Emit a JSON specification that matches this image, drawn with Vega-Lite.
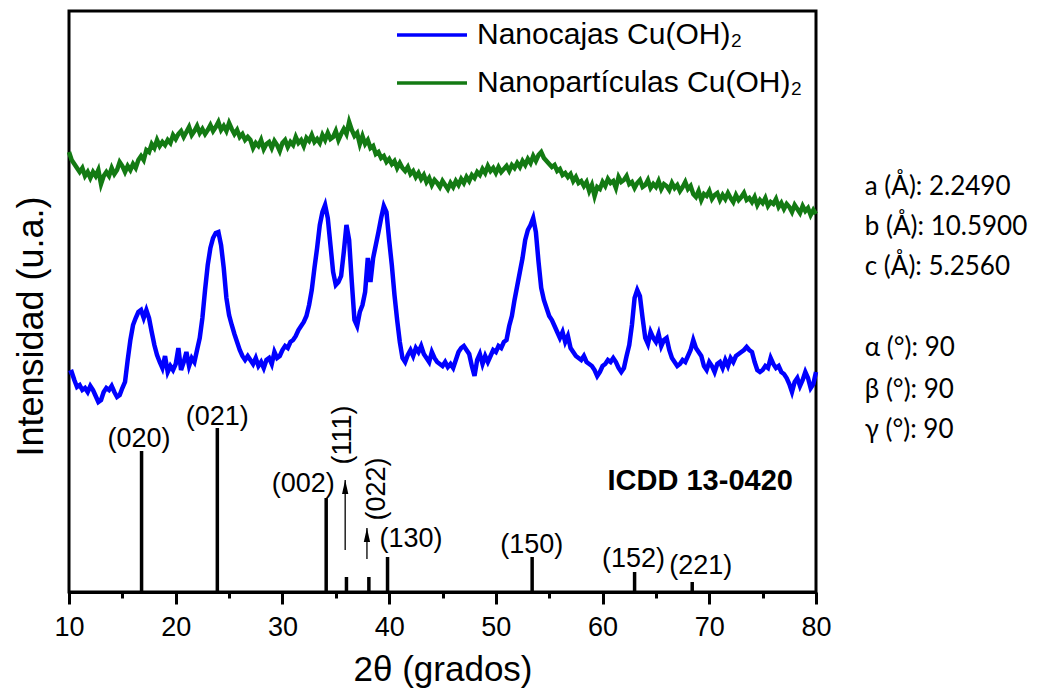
{
"$schema":"https://vega.github.io/schema/vega-lite/v6.json",
"width":747,"height":581,
"autosize":"none",
"padding":{"left":69,"top":11,"right":222,"bottom":100},
"background":"white",
"config":{"view":{"stroke":"black","strokeWidth":3},"font":"Liberation Sans"},
"datasets":{
"blue":[{"t":10,"v":219},{"t":10.25,"v":220},{"t":10.5,"v":212},{"t":10.75,"v":205},{"t":11,"v":207},{"t":11.25,"v":202},{"t":11.5,"v":204},{"t":11.75,"v":200},{"t":12,"v":206},{"t":12.25,"v":202},{"t":12.5,"v":196},{"t":12.75,"v":190},{"t":13,"v":192},{"t":13.25,"v":200},{"t":13.5,"v":204},{"t":13.75,"v":202},{"t":14,"v":206},{"t":14.25,"v":200},{"t":14.5,"v":195},{"t":14.75,"v":197},{"t":15,"v":204},{"t":15.25,"v":210},{"t":15.5,"v":232},{"t":15.75,"v":252},{"t":16,"v":267},{"t":16.25,"v":274},{"t":16.5,"v":280},{"t":16.75,"v":282},{"t":17,"v":274},{"t":17.25,"v":282},{"t":17.5,"v":274},{"t":17.75,"v":260},{"t":18,"v":247},{"t":18.25,"v":237},{"t":18.5,"v":230},{"t":18.75,"v":224},{"t":19,"v":236},{"t":19.25,"v":220},{"t":19.5,"v":226},{"t":19.75,"v":222},{"t":20,"v":228},{"t":20.25,"v":244},{"t":20.5,"v":222},{"t":20.75,"v":230},{"t":21,"v":240},{"t":21.25,"v":226},{"t":21.5,"v":234},{"t":21.75,"v":230},{"t":22,"v":242},{"t":22.25,"v":254},{"t":22.5,"v":274},{"t":22.75,"v":302},{"t":23,"v":327},{"t":23.25,"v":344},{"t":23.5,"v":354},{"t":23.75,"v":359},{"t":24,"v":360},{"t":24.25,"v":347},{"t":24.5,"v":324},{"t":24.75,"v":294},{"t":25,"v":277},{"t":25.25,"v":267},{"t":25.5,"v":258},{"t":25.75,"v":250},{"t":26,"v":242},{"t":26.25,"v":236},{"t":26.5,"v":232},{"t":26.75,"v":236},{"t":27,"v":232},{"t":27.25,"v":228},{"t":27.5,"v":234},{"t":27.75,"v":226},{"t":28,"v":230},{"t":28.25,"v":224},{"t":28.5,"v":232},{"t":28.75,"v":234},{"t":29,"v":228},{"t":29.25,"v":240},{"t":29.5,"v":234},{"t":29.75,"v":236},{"t":30,"v":242},{"t":30.25,"v":246},{"t":30.5,"v":244},{"t":30.75,"v":250},{"t":31,"v":252},{"t":31.25,"v":256},{"t":31.5,"v":262},{"t":31.75,"v":266},{"t":32,"v":270},{"t":32.25,"v":276},{"t":32.5,"v":287},{"t":32.75,"v":302},{"t":33,"v":324},{"t":33.25,"v":344},{"t":33.5,"v":367},{"t":33.75,"v":380},{"t":34,"v":387},{"t":34.25,"v":374},{"t":34.5,"v":347},{"t":34.75,"v":320},{"t":35,"v":307},{"t":35.25,"v":310},{"t":35.5,"v":316},{"t":35.75,"v":340},{"t":36,"v":367},{"t":36.25,"v":352},{"t":36.5,"v":310},{"t":36.75,"v":272},{"t":37,"v":266},{"t":37.25,"v":280},{"t":37.5,"v":287},{"t":37.75,"v":300},{"t":38,"v":334},{"t":38.25,"v":310},{"t":38.5,"v":334},{"t":38.75,"v":347},{"t":39,"v":360},{"t":39.25,"v":374},{"t":39.5,"v":386},{"t":39.75,"v":380},{"t":40,"v":352},{"t":40.25,"v":327},{"t":40.5,"v":297},{"t":40.75,"v":272},{"t":41,"v":250},{"t":41.25,"v":234},{"t":41.5,"v":230},{"t":41.75,"v":237},{"t":42,"v":242},{"t":42.25,"v":236},{"t":42.5,"v":244},{"t":42.75,"v":240},{"t":43,"v":246},{"t":43.25,"v":238},{"t":43.5,"v":234},{"t":43.75,"v":230},{"t":44,"v":240},{"t":44.25,"v":234},{"t":44.5,"v":230},{"t":44.75,"v":228},{"t":45,"v":226},{"t":45.25,"v":230},{"t":45.5,"v":225},{"t":45.75,"v":228},{"t":46,"v":224},{"t":46.25,"v":232},{"t":46.5,"v":240},{"t":46.75,"v":244},{"t":47,"v":246},{"t":47.25,"v":242},{"t":47.5,"v":238},{"t":47.75,"v":226},{"t":48,"v":216},{"t":48.25,"v":232},{"t":48.5,"v":238},{"t":48.75,"v":228},{"t":49,"v":236},{"t":49.25,"v":230},{"t":49.5,"v":236},{"t":49.75,"v":242},{"t":50,"v":240},{"t":50.25,"v":246},{"t":50.5,"v":244},{"t":50.75,"v":250},{"t":51,"v":252},{"t":51.25,"v":266},{"t":51.5,"v":276},{"t":51.75,"v":292},{"t":52,"v":306},{"t":52.25,"v":320},{"t":52.5,"v":334},{"t":52.75,"v":352},{"t":53,"v":362},{"t":53.25,"v":367},{"t":53.5,"v":374},{"t":53.75,"v":360},{"t":54,"v":330},{"t":54.25,"v":304},{"t":54.5,"v":292},{"t":54.75,"v":284},{"t":55,"v":276},{"t":55.25,"v":272},{"t":55.5,"v":266},{"t":55.75,"v":260},{"t":56,"v":254},{"t":56.25,"v":260},{"t":56.5,"v":250},{"t":56.75,"v":256},{"t":57,"v":244},{"t":57.25,"v":240},{"t":57.5,"v":236},{"t":57.75,"v":234},{"t":58,"v":232},{"t":58.25,"v":236},{"t":58.5,"v":230},{"t":58.75,"v":228},{"t":59,"v":226},{"t":59.25,"v":222},{"t":59.5,"v":216},{"t":59.75,"v":220},{"t":60,"v":226},{"t":60.25,"v":228},{"t":60.5,"v":232},{"t":60.75,"v":230},{"t":61,"v":234},{"t":61.25,"v":230},{"t":61.5,"v":224},{"t":61.75,"v":220},{"t":62,"v":224},{"t":62.25,"v":236},{"t":62.5,"v":247},{"t":62.75,"v":267},{"t":63,"v":294},{"t":63.25,"v":302},{"t":63.5,"v":296},{"t":63.75,"v":274},{"t":64,"v":254},{"t":64.25,"v":248},{"t":64.5,"v":260},{"t":64.75,"v":254},{"t":65,"v":250},{"t":65.25,"v":258},{"t":65.5,"v":246},{"t":65.75,"v":252},{"t":66,"v":254},{"t":66.25,"v":242},{"t":66.5,"v":234},{"t":66.75,"v":230},{"t":67,"v":226},{"t":67.25,"v":228},{"t":67.5,"v":232},{"t":67.75,"v":230},{"t":68,"v":236},{"t":68.25,"v":242},{"t":68.5,"v":252},{"t":68.75,"v":244},{"t":69,"v":240},{"t":69.25,"v":236},{"t":69.5,"v":226},{"t":69.75,"v":222},{"t":70,"v":230},{"t":70.25,"v":226},{"t":70.5,"v":220},{"t":70.75,"v":228},{"t":71,"v":230},{"t":71.25,"v":224},{"t":71.5,"v":232},{"t":71.75,"v":226},{"t":72,"v":234},{"t":72.25,"v":230},{"t":72.5,"v":236},{"t":72.75,"v":238},{"t":73,"v":240},{"t":73.25,"v":242},{"t":73.5,"v":245},{"t":73.75,"v":242},{"t":74,"v":240},{"t":74.25,"v":230},{"t":74.5,"v":222},{"t":74.75,"v":220},{"t":75,"v":222},{"t":75.25,"v":226},{"t":75.5,"v":224},{"t":75.75,"v":234},{"t":76,"v":228},{"t":76.25,"v":224},{"t":76.5,"v":226},{"t":76.75,"v":220},{"t":77,"v":218},{"t":77.25,"v":214},{"t":77.5,"v":208},{"t":77.75,"v":200},{"t":78,"v":210},{"t":78.25,"v":214},{"t":78.5,"v":206},{"t":78.75,"v":212},{"t":79,"v":220},{"t":79.25,"v":214},{"t":79.5,"v":204},{"t":79.75,"v":208},{"t":80,"v":220}],
"green":[{"t":10,"v":440},{"t":10.25,"v":432},{"t":10.5,"v":428},{"t":10.75,"v":424},{"t":11,"v":420},{"t":11.25,"v":424},{"t":11.5,"v":416},{"t":11.75,"v":420},{"t":12,"v":414},{"t":12.25,"v":420},{"t":12.5,"v":416},{"t":12.75,"v":422},{"t":13,"v":408},{"t":13.25,"v":416},{"t":13.5,"v":420},{"t":13.75,"v":416},{"t":14,"v":424},{"t":14.25,"v":418},{"t":14.5,"v":422},{"t":14.75,"v":430},{"t":15,"v":426},{"t":15.25,"v":420},{"t":15.5,"v":426},{"t":15.75,"v":422},{"t":16,"v":428},{"t":16.25,"v":424},{"t":16.5,"v":432},{"t":16.75,"v":436},{"t":17,"v":432},{"t":17.25,"v":442},{"t":17.5,"v":440},{"t":17.75,"v":448},{"t":18,"v":444},{"t":18.25,"v":452},{"t":18.5,"v":446},{"t":18.75,"v":450},{"t":19,"v":447},{"t":19.25,"v":452},{"t":19.5,"v":449},{"t":19.75,"v":457},{"t":20,"v":453},{"t":20.25,"v":458},{"t":20.5,"v":461},{"t":20.75,"v":455},{"t":21,"v":460},{"t":21.25,"v":465},{"t":21.5,"v":457},{"t":21.75,"v":461},{"t":22,"v":466},{"t":22.25,"v":459},{"t":22.5,"v":463},{"t":22.75,"v":458},{"t":23,"v":462},{"t":23.25,"v":467},{"t":23.5,"v":461},{"t":23.75,"v":465},{"t":24,"v":470},{"t":24.25,"v":462},{"t":24.5,"v":466},{"t":24.75,"v":461},{"t":25,"v":469},{"t":25.25,"v":463},{"t":25.5,"v":458},{"t":25.75,"v":462},{"t":26,"v":455},{"t":26.25,"v":458},{"t":26.5,"v":452},{"t":26.75,"v":455},{"t":27,"v":452},{"t":27.25,"v":444},{"t":27.5,"v":449},{"t":27.75,"v":446},{"t":28,"v":452},{"t":28.25,"v":443},{"t":28.5,"v":448},{"t":28.75,"v":450},{"t":29,"v":444},{"t":29.25,"v":451},{"t":29.5,"v":447},{"t":29.75,"v":441},{"t":30,"v":449},{"t":30.25,"v":452},{"t":30.5,"v":445},{"t":30.75,"v":450},{"t":31,"v":447},{"t":31.25,"v":455},{"t":31.5,"v":449},{"t":31.75,"v":452},{"t":32,"v":446},{"t":32.25,"v":454},{"t":32.5,"v":451},{"t":32.75,"v":457},{"t":33,"v":450},{"t":33.25,"v":453},{"t":33.5,"v":449},{"t":33.75,"v":457},{"t":34,"v":452},{"t":34.25,"v":459},{"t":34.5,"v":453},{"t":34.75,"v":455},{"t":35,"v":461},{"t":35.25,"v":452},{"t":35.5,"v":458},{"t":35.75,"v":463},{"t":36,"v":458},{"t":36.25,"v":470},{"t":36.5,"v":462},{"t":36.75,"v":456},{"t":37,"v":459},{"t":37.25,"v":448},{"t":37.5,"v":456},{"t":37.75,"v":448},{"t":38,"v":452},{"t":38.25,"v":444},{"t":38.5,"v":446},{"t":38.75,"v":438},{"t":39,"v":440},{"t":39.25,"v":434},{"t":39.5,"v":436},{"t":39.75,"v":430},{"t":40,"v":433},{"t":40.25,"v":428},{"t":40.5,"v":431},{"t":40.75,"v":424},{"t":41,"v":429},{"t":41.25,"v":424},{"t":41.5,"v":421},{"t":41.75,"v":425},{"t":42,"v":418},{"t":42.25,"v":421},{"t":42.5,"v":415},{"t":42.75,"v":419},{"t":43,"v":413},{"t":43.25,"v":417},{"t":43.5,"v":410},{"t":43.75,"v":414},{"t":44,"v":407},{"t":44.25,"v":412},{"t":44.5,"v":409},{"t":44.75,"v":405},{"t":45,"v":411},{"t":45.25,"v":407},{"t":45.5,"v":403},{"t":45.75,"v":409},{"t":46,"v":405},{"t":46.25,"v":411},{"t":46.5,"v":407},{"t":46.75,"v":413},{"t":47,"v":409},{"t":47.25,"v":415},{"t":47.5,"v":411},{"t":47.75,"v":417},{"t":48,"v":414},{"t":48.25,"v":420},{"t":48.5,"v":417},{"t":48.75,"v":423},{"t":49,"v":419},{"t":49.25,"v":426},{"t":49.5,"v":421},{"t":49.75,"v":424},{"t":50,"v":419},{"t":50.25,"v":425},{"t":50.5,"v":420},{"t":50.75,"v":423},{"t":51,"v":426},{"t":51.25,"v":421},{"t":51.5,"v":427},{"t":51.75,"v":424},{"t":52,"v":429},{"t":52.25,"v":425},{"t":52.5,"v":431},{"t":52.75,"v":427},{"t":53,"v":433},{"t":53.25,"v":429},{"t":53.5,"v":436},{"t":53.75,"v":431},{"t":54,"v":437},{"t":54.25,"v":440},{"t":54.5,"v":434},{"t":54.75,"v":431},{"t":55,"v":428},{"t":55.25,"v":425},{"t":55.5,"v":427},{"t":55.75,"v":421},{"t":56,"v":423},{"t":56.25,"v":417},{"t":56.5,"v":419},{"t":56.75,"v":415},{"t":57,"v":418},{"t":57.25,"v":411},{"t":57.5,"v":415},{"t":57.75,"v":409},{"t":58,"v":411},{"t":58.25,"v":406},{"t":58.5,"v":410},{"t":58.75,"v":401},{"t":59,"v":407},{"t":59.25,"v":396},{"t":59.5,"v":405},{"t":59.75,"v":403},{"t":60,"v":410},{"t":60.25,"v":406},{"t":60.5,"v":413},{"t":60.75,"v":409},{"t":61,"v":411},{"t":61.25,"v":404},{"t":61.5,"v":415},{"t":61.75,"v":410},{"t":62,"v":412},{"t":62.25,"v":416},{"t":62.5,"v":408},{"t":62.75,"v":410},{"t":63,"v":404},{"t":63.25,"v":409},{"t":63.5,"v":412},{"t":63.75,"v":405},{"t":64,"v":407},{"t":64.25,"v":412},{"t":64.5,"v":404},{"t":64.75,"v":408},{"t":65,"v":405},{"t":65.25,"v":411},{"t":65.5,"v":403},{"t":65.75,"v":408},{"t":66,"v":406},{"t":66.25,"v":402},{"t":66.5,"v":409},{"t":66.75,"v":404},{"t":67,"v":407},{"t":67.25,"v":401},{"t":67.5,"v":405},{"t":67.75,"v":410},{"t":68,"v":403},{"t":68.25,"v":406},{"t":68.5,"v":398},{"t":68.75,"v":395},{"t":69,"v":401},{"t":69.25,"v":392},{"t":69.5,"v":398},{"t":69.75,"v":396},{"t":70,"v":401},{"t":70.25,"v":393},{"t":70.5,"v":397},{"t":70.75,"v":399},{"t":71,"v":392},{"t":71.25,"v":397},{"t":71.5,"v":393},{"t":71.75,"v":399},{"t":72,"v":394},{"t":72.25,"v":390},{"t":72.5,"v":397},{"t":72.75,"v":392},{"t":73,"v":395},{"t":73.25,"v":399},{"t":73.5,"v":392},{"t":73.75,"v":394},{"t":74,"v":390},{"t":74.25,"v":395},{"t":74.5,"v":387},{"t":74.75,"v":392},{"t":75,"v":389},{"t":75.25,"v":394},{"t":75.5,"v":386},{"t":75.75,"v":390},{"t":76,"v":388},{"t":76.25,"v":393},{"t":76.5,"v":385},{"t":76.75,"v":389},{"t":77,"v":383},{"t":77.25,"v":388},{"t":77.5,"v":385},{"t":77.75,"v":380},{"t":78,"v":387},{"t":78.25,"v":383},{"t":78.5,"v":379},{"t":78.75,"v":386},{"t":79,"v":381},{"t":79.25,"v":384},{"t":79.5,"v":377},{"t":79.75,"v":382},{"t":80,"v":378}],
"sticks":[{"t":16.8,"v":141},{"t":23.9,"v":164},{"t":34.1,"v":94},{"t":36.0,"v":15},{"t":38.1,"v":15},{"t":39.85,"v":35},{"t":53.4,"v":35},{"t":63.0,"v":20},{"t":68.4,"v":10}],
"arrows":[{"t":35.88,"lo":42,"v":112},{"t":37.92,"lo":33,"v":64}],
"hkl":[{"t":16.56,"v":153,"lab":"(020)"},{"t":23.9,"v":175,"lab":"(021)"},{"t":31.95,"v":108,"lab":"(002)"},{"t":42.04,"v":53,"lab":"(130)"},{"t":53.37,"v":47,"lab":"(150)"},{"t":62.9,"v":33,"lab":"(152)"},{"t":69.2,"v":26,"lab":"(221)"}],
"hklv":[{"t":35.63,"v":157,"lab":"(111)"},{"t":38.83,"v":103,"lab":"(022)"}],
"card":[{"t":69.15,"v":111,"lab":"ICDD 13-0420"}],
"cell":[{"t":84.57,"v":405,"lab":"a (Å): 2.2490"},{"t":84.57,"v":365,"lab":"b (Å): 10.5900"},{"t":84.57,"v":325,"lab":"c (Å): 5.2560"},{"t":84.57,"v":244,"lab":"α (°): 90"},{"t":84.57,"v":202,"lab":"β (°): 90"},{"t":84.57,"v":162,"lab":"γ (°): 90"}]
},
"encoding":{
"x":{"field":"t","type":"quantitative","scale":{"domain":[10,80],"nice":false,"zero":false},
"axis":{"title":"2θ (grados)","titleFontSize":35,"titleFontWeight":"normal","titleColor":"black","titlePadding":12,
"values":[10,15,20,25,30,35,40,45,50,55,60,65,70,75,80],
"labelExpr":"datum.value % 10 === 0 ? datum.label : ''","labelFontSize":27,"labelColor":"black","labelPadding":10,"labelFlush":false,"labelOverlap":false,
"tickSize":{"condition":{"test":"datum.value % 10 === 0","value":12},"value":6},"tickWidth":3,"tickColor":"black",
"domainColor":"black","domainWidth":3,"grid":false}},
"y":{"field":"v","type":"quantitative","scale":{"domain":[0,581],"nice":false,"zero":false},
"axis":{"title":"Intensidad (u.a.)","ticks":false,"labels":false,"domain":false,"grid":false,"titleFontSize":36,"titleFontWeight":"normal","titleColor":"black","titlePadding":19,"titleY":315}}
},
"layer":[
{"data":{"name":"blue"},"mark":{"type":"line","strokeWidth":4.5},
 "encoding":{"color":{"datum":"Nanocajas Cu(OH)₂","scale":{"domain":["Nanocajas Cu(OH)₂","Nanopartículas Cu(OH)₂"],"range":["#0000ff","#137a13"]},
 "legend":{"orient":"none","legendX":347,"legendY":8,"title":null,"symbolType":"M-2.5,0H2.5","symbolSize":784,"symbolStrokeWidth":3.5,"labelFontSize":30,"labelFont":"Liberation Sans","labelColor":"black","labelOffset":29,"labelLimit":0,"rowPadding":17,"padding":0}}}},
{"data":{"name":"green"},"mark":{"type":"line","strokeWidth":4.5},
 "encoding":{"color":{"datum":"Nanopartículas Cu(OH)₂"}}},
{"data":{"name":"sticks"},"mark":{"type":"rule","strokeWidth":3.5,"color":"black"},
 "encoding":{"y2":{"datum":0}}},
{"data":{"name":"arrows"},"mark":{"type":"rule","strokeWidth":1.3,"color":"black"},
 "encoding":{"y2":{"field":"lo"}}},
{"data":{"name":"arrows"},"mark":{"type":"point","shape":"M0,0L-0.45,2L0.45,2Z","size":196,"filled":true,"color":"black","opacity":1},
 "encoding":{}},
{"data":{"name":"hkl"},"mark":{"type":"text","fontSize":27,"font":"Liberation Sans","color":"black","align":"center","baseline":"middle"},
 "encoding":{"text":{"field":"lab"}}},
{"data":{"name":"hklv"},"mark":{"type":"text","fontSize":27,"font":"Liberation Sans","color":"black","align":"center","baseline":"middle","angle":270},
 "encoding":{"text":{"field":"lab"}}},
{"data":{"name":"card"},"mark":{"type":"text","fontSize":29,"font":"Liberation Sans","fontWeight":"bold","color":"black","align":"center","baseline":"middle"},
 "encoding":{"text":{"field":"lab"}}},
{"data":{"name":"cell"},"mark":{"type":"text","fontSize":26,"font":"Lato","color":"black","align":"left","baseline":"middle"},
 "encoding":{"text":{"field":"lab"}}}
]
}
